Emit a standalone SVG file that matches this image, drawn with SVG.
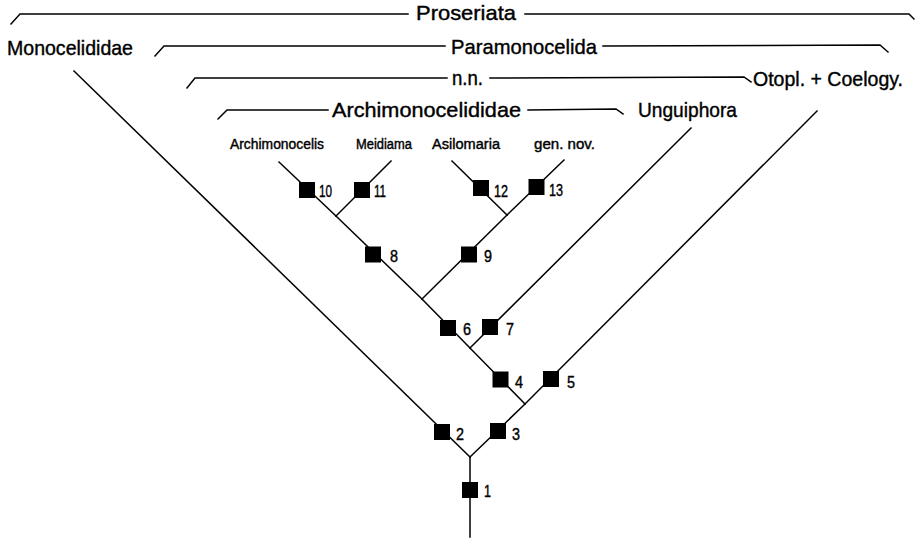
<svg xmlns="http://www.w3.org/2000/svg" width="915" height="539" viewBox="0 0 915 539">
<style>
.ln{stroke:#000;stroke-width:1.5;fill:none;stroke-linecap:square}
.bx{fill:#000}
.t{font-family:"Liberation Sans",Arial,sans-serif;fill:#000;stroke:#000;stroke-width:0.4}
.big{font-size:21px}
.tax{font-size:14px}
.num{font-size:16px}
</style>
<rect width="915" height="539" fill="#fff"/>
<g id="brackets" class="ln">
<polyline points="11,24 20,14 408,14"/>
<polyline points="525,14 909,14 914,19"/>
<polyline points="155,56 164,46 445,46"/>
<polyline points="603,46 880,45 888,52"/>
<polyline points="187,88 195,78 447,78"/>
<polyline points="490,78 744,77 751,82"/>
<polyline points="218,119 227,110 328,110"/>
<polyline points="528,110 616,109 623,114"/>
</g>
<g id="group-labels">
<text class="t big" x="416" y="20" textLength="100" lengthAdjust="spacingAndGlyphs">Proseriata</text>
<text class="t big" x="7" y="55" textLength="126" lengthAdjust="spacingAndGlyphs">Monocelididae</text>
<text class="t big" x="451" y="54" textLength="146" lengthAdjust="spacingAndGlyphs">Paramonocelida</text>
<text class="t big" x="452" y="85" textLength="31" lengthAdjust="spacingAndGlyphs">n.n.</text>
<text class="t big" x="753" y="86" textLength="150" lengthAdjust="spacingAndGlyphs">Otopl. + Coelogy.</text>
<text class="t big" x="332" y="117" textLength="189" lengthAdjust="spacingAndGlyphs">Archimonocelididae</text>
<text class="t big" x="638" y="117" textLength="99" lengthAdjust="spacingAndGlyphs">Unguiphora</text>
</g>
<g id="connectors" class="ln">
<line x1="470" y1="537" x2="470" y2="457"/>
<line x1="470" y1="457" x2="74" y2="71"/>
<line x1="470" y1="457" x2="525" y2="404"/>
<line x1="525" y1="404" x2="470" y2="348"/>
<line x1="525" y1="404" x2="817" y2="111"/>
<line x1="470" y1="348" x2="422" y2="299"/>
<line x1="470" y1="348" x2="691" y2="128"/>
<line x1="422" y1="299" x2="336" y2="216"/>
<line x1="422" y1="299" x2="507" y2="215"/>
<line x1="336" y1="216" x2="279" y2="162"/>
<line x1="336" y1="216" x2="391" y2="161"/>
<line x1="507" y1="215" x2="452" y2="161"/>
<line x1="507" y1="215" x2="564" y2="160"/>
</g>
<g id="taxon-archimonocelis"><text class="t tax" x="230" y="149" textLength="94" lengthAdjust="spacingAndGlyphs">Archimonocelis</text></g>
<g id="taxon-meidiama"><text class="t tax" x="356" y="149" textLength="56" lengthAdjust="spacingAndGlyphs">Meidiama</text></g>
<g id="taxon-asilomaria"><text class="t tax" x="432" y="149" textLength="68" lengthAdjust="spacingAndGlyphs">Asilomaria</text></g>
<g id="taxon-gennov"><text class="t tax" x="534" y="149" textLength="61" lengthAdjust="spacingAndGlyphs">gen. nov.</text></g>
<g id="node-1"><rect class="bx" x="462" y="482" width="16" height="16"/><text class="t num" x="484" y="497" textLength="7" lengthAdjust="spacingAndGlyphs">1</text></g>
<g id="node-2"><rect class="bx" x="434" y="424" width="16" height="16"/><text class="t num" x="456" y="440" textLength="8" lengthAdjust="spacingAndGlyphs">2</text></g>
<g id="node-3"><rect class="bx" x="490" y="423" width="16" height="16"/><text class="t num" x="512" y="440" textLength="8" lengthAdjust="spacingAndGlyphs">3</text></g>
<g id="node-4"><rect class="bx" x="492.5" y="371.5" width="16" height="16"/><text class="t num" x="515" y="388" textLength="8" lengthAdjust="spacingAndGlyphs">4</text></g>
<g id="node-5"><rect class="bx" x="543" y="371" width="16" height="16"/><text class="t num" x="567" y="388" textLength="8" lengthAdjust="spacingAndGlyphs">5</text></g>
<g id="node-6"><rect class="bx" x="440" y="320" width="16" height="16"/><text class="t num" x="463" y="335" textLength="8" lengthAdjust="spacingAndGlyphs">6</text></g>
<g id="node-7"><rect class="bx" x="482" y="319" width="16" height="16"/><text class="t num" x="506" y="335" textLength="8" lengthAdjust="spacingAndGlyphs">7</text></g>
<g id="node-8"><rect class="bx" x="365" y="246.5" width="16" height="16"/><text class="t num" x="390" y="262" textLength="8" lengthAdjust="spacingAndGlyphs">8</text></g>
<g id="node-9"><rect class="bx" x="461" y="246.5" width="16" height="16"/><text class="t num" x="484" y="262" textLength="8" lengthAdjust="spacingAndGlyphs">9</text></g>
<g id="node-10"><rect class="bx" x="299" y="182" width="16" height="16"/><text class="t num" x="319" y="197" textLength="13" lengthAdjust="spacingAndGlyphs">10</text></g>
<g id="node-11"><rect class="bx" x="354" y="182" width="16" height="16"/><text class="t num" x="374" y="197" textLength="12" lengthAdjust="spacingAndGlyphs">11</text></g>
<g id="node-12"><rect class="bx" x="473" y="180" width="16" height="16"/><text class="t num" x="494" y="197" textLength="14" lengthAdjust="spacingAndGlyphs">12</text></g>
<g id="node-13"><rect class="bx" x="528.5" y="179" width="16" height="16"/><text class="t num" x="549" y="196" textLength="14" lengthAdjust="spacingAndGlyphs">13</text></g>
</svg>
